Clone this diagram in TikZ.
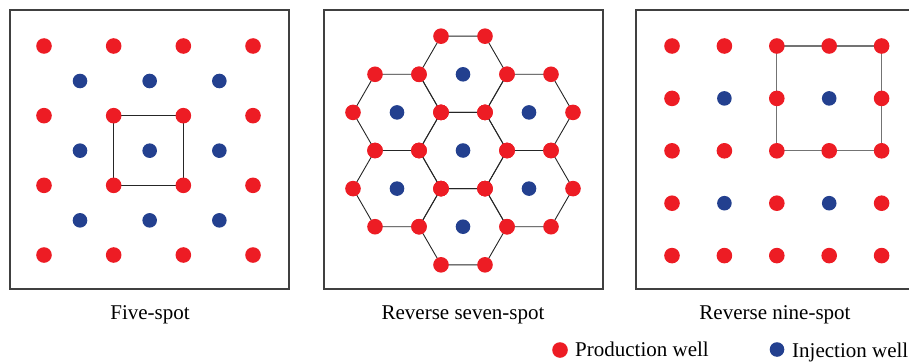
\documentclass[tikz,border=0pt]{standalone}
\usepackage{fontspec}
\setmainfont{Liberation Serif}
\definecolor{prodred}{RGB}{237,28,36}
\definecolor{injblue}{RGB}{35,64,143}
\tikzset{
  frame/.style={draw=black!75,line width=1.1pt},
  link/.style={draw=black!85,line width=0.9pt},
  linkgrey/.style={draw=black!55,line width=1.1pt},
  prod/.style={circle,fill=prodred,minimum size=15.6pt,inner sep=0pt},
  inj/.style={circle,fill=injblue,minimum size=14.6pt,inner sep=0pt},
  caption/.style={font=\fontsize{21}{24}\selectfont,anchor=base,inner sep=0pt}
}
\begin{document}
\begin{tikzpicture}[x=1pt,y=-1pt]
\useasboundingbox (0,0) rectangle (909,361);
% ---------- frames
\draw[frame] (10,10) rectangle (289,289);
\draw[frame] (324,10) rectangle (603,289);
\draw[frame] (636,10) rectangle (915,289);
% ---------- Five-spot
\foreach \i in {0,...,3}{
  \foreach \j in {0,...,3}{
    \coordinate (fa\i\j) at ({44+69.67*\i},{46+69.67*\j});
  }
}
\draw[link] (fa11) -- (fa21) -- (fa22) -- (fa12) -- cycle;
\foreach \i in {0,...,3}{
  \foreach \j in {0,...,3}{
    \node[prod] (fp\i\j) at (fa\i\j) {};
  }
}
\foreach \i in {0,...,2}{
  \foreach \j in {0,...,2}{
    \node[inj] (fi\i\j) at ({80+69.67*\i},{81+69.67*\j}) {};
  }
}
% ---------- Reverse seven-spot
\foreach \k/\cx/\cy in {0/463/150.5, 1/463/74.3, 2/463/226.7, 3/397/112.4, 4/397/188.6, 5/529/112.4, 6/529/188.6}{
  \foreach \m in {0,...,5}{
    \coordinate (h\k v\m) at ({\cx+44*cos(60*\m)},{\cy+44*sin(60*\m)});
  }
  \draw[link] (h\k v0) -- (h\k v1) -- (h\k v2) -- (h\k v3) -- (h\k v4) -- (h\k v5) -- cycle;
}
\foreach \k/\cx/\cy in {0/463/150.5, 1/463/74.3, 2/463/226.7, 3/397/112.4, 4/397/188.6, 5/529/112.4, 6/529/188.6}{
  \foreach \m in {0,...,5}{
    \node[prod] (sp\k v\m) at (h\k v\m) {};
  }
  \node[inj] (si\k) at (\cx,\cy) {};
}
% ---------- Reverse nine-spot
\foreach \i in {0,...,4}{
  \foreach \j in {0,...,4}{
    \coordinate (na\i\j) at ({672+52.4*\i},{46+52.4*\j});
  }
}
\draw[linkgrey] (na20) -- (na30) -- (na40) -- (na41) -- (na42) -- (na32) -- (na22) -- (na21) -- cycle;
\foreach \i/\j in {1/1,3/1,1/3,3/3}{
  \node[inj] (ni\i\j) at (na\i\j) {};
}
\foreach \i/\j in {0/0,1/0,2/0,3/0,4/0, 0/1,2/1,4/1, 0/2,1/2,2/2,3/2,4/2, 0/3,2/3,4/3, 0/4,1/4,2/4,3/4,4/4}{
  \node[prod] (np\i\j) at (na\i\j) {};
}
% ---------- captions
\node[caption] (c1) at (150,319) {Five-spot};
\node[caption] (c2) at (463,319) {Reverse seven-spot};
\node[caption] (c3) at (775,319) {Reverse nine-spot};
% ---------- legend
\node[prod] (lp) at (560,350) {};
\node[caption,anchor=base west] (lpt) at (575,356) {Production well};
\node[inj] (li) at (777,349.5) {};
\node[caption,anchor=base west] (lit) at (792,357) {Injection well};
\end{tikzpicture}
\end{document}
